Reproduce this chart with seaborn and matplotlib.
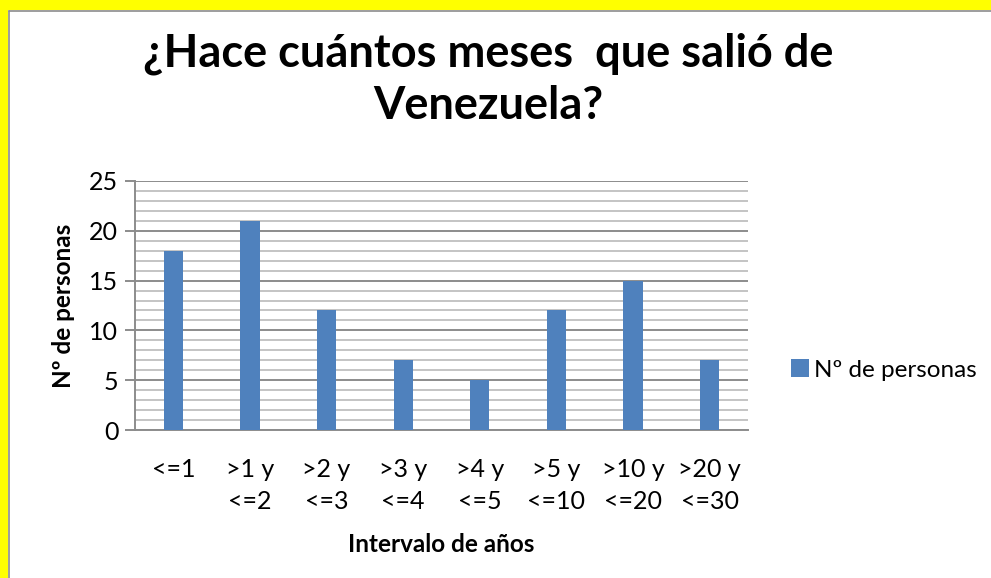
import matplotlib
matplotlib.use("Agg")
import matplotlib.pyplot as plt
import seaborn as sns
import pandas as pd
from matplotlib.patches import Rectangle, Patch
from matplotlib.ticker import MultipleLocator

categories = ["<=1", ">1 y\n<=2", ">2 y\n<=3", ">3 y\n<=4", ">4 y\n<=5",
              ">5 y\n<=10", ">10 y\n<=20", ">20 y\n<=30"]
values = [18, 21, 12, 7, 5, 12, 15, 7]
series_name = "Nº de personas"
title = "¿Hace cuántos meses  que salió de\nVenezuela?"
x_label = "Intervalo de años"
y_label = "Nº de personas"

df = pd.DataFrame({"cat": categories, "val": values})

sns.set_theme(style="white")
plt.rcParams["font.family"] = ["Lato", "DejaVu Sans"]
plt.rcParams["text.color"] = "black"
plt.rcParams["axes.labelcolor"] = "black"
plt.rcParams["xtick.color"] = "black"
plt.rcParams["ytick.color"] = "black"

W, H = 991, 578
fig = plt.figure(figsize=(W / 100, H / 100), dpi=100)
fig.patch.set_facecolor("white")

# yellow frame (top and left) with gray border line
fig.patches.append(Rectangle((0, 1 - 10 / H), 1, 10 / H, transform=fig.transFigure,
                             facecolor="#FFFF00", edgecolor="none", zorder=0))
fig.patches.append(Rectangle((0, 0), 8 / W, 1, transform=fig.transFigure,
                             facecolor="#FFFF00", edgecolor="none", zorder=0))
fig.add_artist(plt.Line2D([8.5 / W, 1], [1 - 10.5 / H, 1 - 10.5 / H],
                          transform=fig.transFigure, color="#8c8c8c", lw=1.2))
fig.add_artist(plt.Line2D([8.5 / W, 8.5 / W], [0, 1 - 10.5 / H],
                          transform=fig.transFigure, color="#8c8c8c", lw=1.2))

ax = fig.add_axes([135 / W, 1 - 430 / H, (748 - 135) / W, (430 - 181) / H])
sns.barplot(data=df, x="cat", y="val", color="#4F81BD", width=0.25,
            saturation=1, ax=ax, zorder=3, edgecolor="none", linewidth=0)

ax.set_ylim(0, 25)
ax.yaxis.set_major_locator(MultipleLocator(5))
ax.yaxis.set_minor_locator(MultipleLocator(1))
ax.grid(which="minor", axis="y", color="#c4c4c4", lw=1.4, zorder=0)
ax.grid(which="major", axis="y", color="#8c8c8c", lw=1.4, zorder=0)
ax.set_axisbelow(True)

for s in ["top", "right"]:
    ax.spines[s].set_visible(False)
for s in ["left", "bottom"]:
    ax.spines[s].set_color("#8c8c8c")
    ax.spines[s].set_linewidth(1.4)

ax.tick_params(axis="y", which="major", direction="out", length=7, width=1.4,
               color="#8c8c8c", labelcolor="black", labelsize=18, pad=5, left=True)
ax.tick_params(axis="y", which="minor", left=False)
ax.tick_params(axis="x", length=0, labelsize=18, labelcolor="black", pad=20)
for lab in ax.get_xticklabels():
    lab.set_linespacing(1.5)

ax.set_xlabel(x_label, fontsize=17.5, fontweight="bold", labelpad=14)
ax.set_ylabel(y_label, fontsize=17.5, fontweight="bold", labelpad=10)

fig.text(0.493, 1 - 80 / H, title, ha="center", va="center", fontsize=32.5,
         fontweight="bold", linespacing=1.3, color="black")

handle = Patch(facecolor="#4F81BD", edgecolor="none", label=series_name)
fig.legend(handles=[handle], loc="center left",
           bbox_to_anchor=(769 / W, 1 - 370 / H), frameon=False, fontsize=17.5,
           handlelength=0.75, handleheight=0.75, handletextpad=0.2)

fig.savefig("out.png", dpi=100)
